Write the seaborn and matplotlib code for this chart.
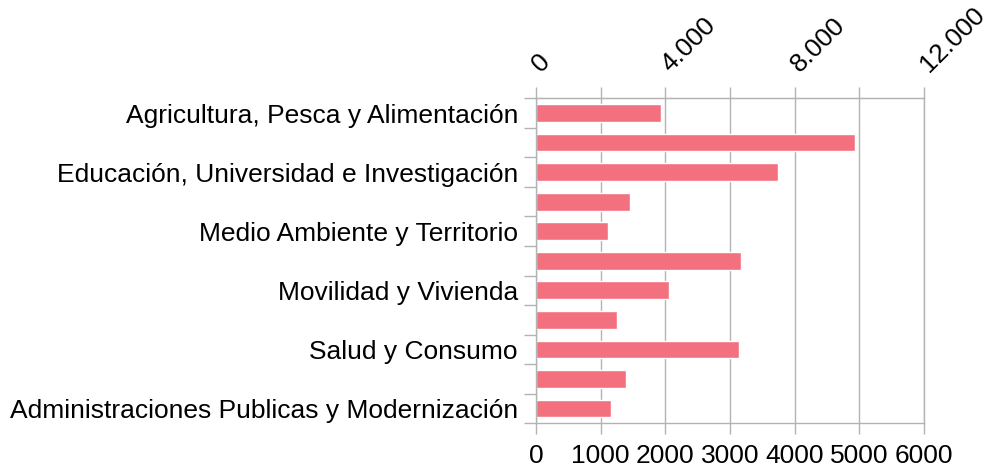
import numpy as np
import pandas as pd
import matplotlib
matplotlib.use('Agg')
import matplotlib.pyplot as plt
import seaborn as sns
from matplotlib.ticker import FixedLocator, FuncFormatter

sns.set_style('white')
plt.rcParams['font.family'] = ['Liberation Sans', 'DejaVu Sans']

categories = [
    'Agricultura, Pesca y Alimentación',
    'Cultura y Deporte',
    'Educación, Universidad e Investigación',
    'Empleo y Economía',
    'Medio Ambiente y Territorio',
    'Hacienda y Presupuestos',
    'Movilidad y Vivienda',
    'Presidencia y Justicia',
    'Salud y Consumo',
    'Servicios Sociales e Igualdad',
    'Administraciones Publicas y Modernización',
]
values = [1930, 4940, 3735, 1450, 1110, 3165, 2050, 1250, 3135, 1390, 1160]
shown = [0, 2, 4, 6, 8, 10]
bottom_ticks = [0, 1000, 2000, 3000, 4000, 5000, 6000]
top_ticks = [0, 4000, 8000, 12000]
top_minor = [2000, 6000, 10000]

GRID = '#b3b3b3'
BAR = '#f3707e'
FS = 19

df = pd.DataFrame({'cat': categories, 'val': values})

fig = plt.figure(figsize=(9.92, 4.72), dpi=100)
ax = fig.add_axes([0.5403, 0.1032, 0.3912, 0.6885])
sns.barplot(data=df, x='val', y='cat', color=BAR, width=0.6, saturation=1, ax=ax)

ax.set_xlim(0, 6000)
ax.set_ylim(len(categories) - 0.5, -0.5)
ax.set_xlabel('')
ax.set_ylabel('')

# x axis (bottom)
ax.xaxis.set_major_locator(FixedLocator(bottom_ticks))
ax.set_xticklabels([str(t) for t in bottom_ticks])
ax.tick_params(axis='x', which='major', bottom=True, length=8, width=1, color=GRID,
               labelsize=FS, pad=7, labelcolor='black')
ax.grid(axis='x', color=GRID, linewidth=1)
ax.set_axisbelow(True)

# y axis: labels at centres, ticks at boundaries
ax.yaxis.set_major_locator(FixedLocator(shown))
ax.set_yticklabels([categories[i] for i in shown])
ax.yaxis.set_minor_locator(FixedLocator(np.arange(-0.5, len(categories), 1.0)))
ax.tick_params(axis='y', which='major', left=False, length=0, labelsize=FS, pad=13,
               labelcolor='black')
ax.tick_params(axis='y', which='minor', left=True, length=9, width=1, color=GRID)

for side in ['left', 'right', 'top', 'bottom']:
    ax.spines[side].set_color(GRID)
    ax.spines[side].set_linewidth(1)

# secondary scale on top
sec = ax.secondary_xaxis('top', functions=(lambda x: 2 * x, lambda x: x / 2))
sec.xaxis.set_major_locator(FixedLocator(top_ticks))
sec.xaxis.set_minor_locator(FixedLocator(top_minor))
sec.xaxis.set_major_formatter(FuncFormatter(lambda v, p: f'{int(v):,}'.replace(',', '.')))
sec.tick_params(axis='x', which='both', length=8, width=1, color=GRID)
sec.tick_params(axis='x', which='major', labelsize=FS, pad=14, labelcolor='black')
sec.spines['top'].set_color(GRID)
for lab in sec.get_xticklabels():
    lab.set_rotation(45)
    lab.set_rotation_mode('anchor')
    lab.set_ha('left')
    lab.set_va('center')

fig.savefig('out.png', dpi=100)
